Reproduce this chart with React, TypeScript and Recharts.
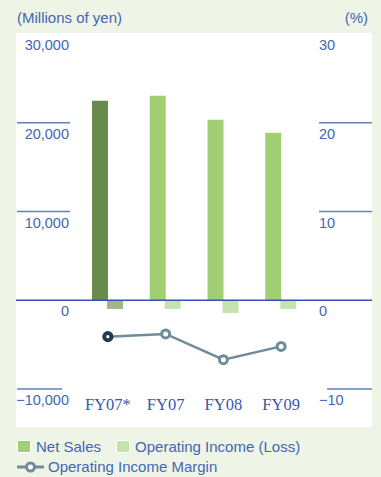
import { ComposedChart, Bar, Line, XAxis, YAxis, ReferenceLine, Cell } from 'recharts'

const categories = ['FY07*', 'FY07', 'FY08', 'FY09']
const netSales = [22470, 23030, 20330, 18860]
const operatingIncome = [-980, -980, -1430, -980]
const operatingMargin = [-4.1, -3.8, -6.7, -5.2]
const leftTicks = [-10000, 0, 10000, 20000, 30000]
const rightTicks = [-10, 0, 10, 20, 30]

const BG = '#eef4e6'
const TEXT = '#4466b4'
const GRID = '#5f7fc6'
const ZERO = '#2f55b0'
const SALES = '#a3cf74'
const SALES_DARK = '#668b4b'
const OPINC = '#c6e2ad'
const OPINC_DARK = '#9fb68a'
const MARGIN = '#6f8c99'
const MARGIN_DARK = '#1f3d4c'
const SANS = '"Liberation Sans", Arial, sans-serif'
const SERIF = '"Liberation Serif", "Times New Roman", serif'

const data = categories.map((name, i) => ({
  name,
  sales: netSales[i],
  opinc: operatingIncome[i],
  margin: operatingMargin[i],
}))

const fmt = (v: number) => (v < 0 ? '\u2212' : '') + Math.abs(v).toLocaleString('en-US')

function LeftTick({ y, payload }: any) {
  const v = payload.value as number
  const showLine = v !== 0 && v !== 30000
  return (
    <g>
      {showLine && <line x1={17} x2={v < 0 ? 62 : 70} y1={y} y2={y} stroke={GRID} strokeWidth={1.5} />}
      <text x={69} y={y + 16} textAnchor="end" fill={TEXT} fontSize={14.5} fontFamily={SANS}>
        {fmt(v)}
      </text>
    </g>
  )
}

function RightTick({ y, payload }: any) {
  const v = payload.value as number
  const showLine = v !== 0 && v !== 30
  return (
    <g>
      {showLine && <line x1={v < 0 ? 327 : 319} x2={372} y1={y} y2={y} stroke={GRID} strokeWidth={1.5} />}
      <text x={319} y={y + 16} textAnchor="start" fill={TEXT} fontSize={14.5} fontFamily={SANS}>
        {fmt(v)}
      </text>
    </g>
  )
}

function CatTick({ x, y, payload }: any) {
  return (
    <text x={x} y={y + 13} textAnchor="middle" fill="#3a58a8" fontSize={16.5} fontFamily={SERIF}>
      {payload.value}
    </text>
  )
}

function MarginDot({ cx, cy, index }: any) {
  const first = index === 0
  return (
    <circle
      key={index}
      cx={cx}
      cy={cy}
      r={first ? 3.6 : 4}
      fill="#fff"
      stroke={first ? MARGIN_DARK : MARGIN}
      strokeWidth={first ? 4 : 3}
    />
  )
}

export default function App() {
  return (
    <div style={{ position: 'absolute', left: 0, top: 0, width: 381, height: 477, background: BG, fontFamily: SANS }}>
      <div style={{ position: 'absolute', left: 16, top: 33, width: 356, height: 394, background: '#fff' }} />
      <div style={{ position: 'absolute', left: 17, top: 9, fontSize: 15, color: TEXT, lineHeight: '18px' }}>
        (Millions of yen)
      </div>
      <div style={{ position: 'absolute', right: 13, top: 9, fontSize: 15, color: TEXT, lineHeight: '18px' }}>(%)</div>

      <div style={{ position: 'absolute', left: 0, top: 0 }}>
        <ComposedChart
          width={381}
          height={477}
          data={data}
          margin={{ top: 34, left: 16, right: 9, bottom: 58 }}
          barSize={16}
          barGap={-1}
        >
          <XAxis
            dataKey="name"
            xAxisId={0}
            axisLine={false}
            tickLine={false}
            padding={{ left: 63, right: 62 }}
            tick={<CatTick />}
            interval={0}
          />
          <YAxis
            yAxisId="left"
            orientation="left"
            mirror
            domain={[-10000, 30000]}
            ticks={leftTicks}
            interval={0}
            axisLine={false}
            tickLine={false}
            tick={<LeftTick />}
          />
          <YAxis
            yAxisId="right"
            orientation="right"
            mirror
            domain={[-10, 30]}
            ticks={rightTicks}
            interval={0}
            axisLine={false}
            tickLine={false}
            tick={<RightTick />}
          />
          <Bar dataKey="sales" yAxisId="left" isAnimationActive={false}>
            {data.map((_, i) => (
              <Cell key={i} fill={i === 0 ? SALES_DARK : SALES} />
            ))}
          </Bar>
          <Bar dataKey="opinc" yAxisId="left" isAnimationActive={false}>
            {data.map((_, i) => (
              <Cell key={i} fill={i === 0 ? OPINC_DARK : OPINC} />
            ))}
          </Bar>
          <ReferenceLine y={0} yAxisId="left" stroke={ZERO} strokeWidth={1.5} />
          <Line
            dataKey="margin"
            yAxisId="right"
            stroke={MARGIN}
            strokeWidth={2.5}
            dot={<MarginDot />}
            activeDot={false}
            isAnimationActive={false}
          />
        </ComposedChart>
      </div>

      <div style={{ position: 'absolute', left: 17, top: 438, display: 'flex', alignItems: 'center', fontSize: 15, color: TEXT, lineHeight: '17px' }}>
        <span style={{ width: 12, height: 11, background: SALES, border: '1px solid #fff', marginRight: 5 }} />
        <span style={{ marginRight: 15 }}>Net Sales</span>
        <span style={{ width: 12, height: 11, background: OPINC, border: '1px solid #fff', marginRight: 5 }} />
        <span>Operating Income (Loss)</span>
      </div>
      <div style={{ position: 'absolute', left: 17, top: 458, display: 'flex', alignItems: 'center', fontSize: 15, color: TEXT, lineHeight: '17px' }}>
        <svg width={27} height={14} style={{ marginRight: 4 }}>
          <line x1={0} x2={27} y1={7} y2={7} stroke={MARGIN} strokeWidth={3} />
          <circle cx={13.5} cy={7} r={4} fill="#fff" stroke={MARGIN} strokeWidth={3} />
        </svg>
        <span>Operating Income Margin</span>
      </div>
    </div>
  )
}
